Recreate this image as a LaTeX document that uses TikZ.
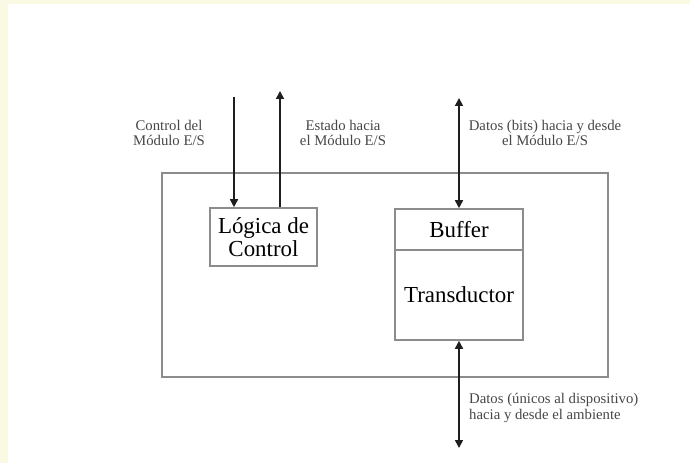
\documentclass[tikz,border=0pt]{standalone}
\usepackage{fontspec}
\setmainfont{Liberation Serif}
\usetikzlibrary{arrows.meta}
\definecolor{pagetint}{HTML}{FAFAE4}
\definecolor{boxgray}{HTML}{8C8C8C}
\definecolor{wire}{HTML}{1E1E1E}
\tikzset{
  frame/.style={draw=boxgray, line width=1.6bp},
  unit/.style={frame, rectangle, inner sep=0pt, align=center,
    font=\fontsize{23}{23.5}\selectfont},
  caption/.style={inner sep=0pt, align=center, text=black!72,
    font=\fontsize{14.8}{15.5}\selectfont},
  wireline/.style={draw=wire, line width=1.6bp},
  tip/.style={-{Triangle[length=8bp,width=8bp]}},
  bothtips/.style={{Triangle[length=8bp,width=8bp]}-{Triangle[length=8bp,width=8bp]}},
}
\begin{document}
\begin{tikzpicture}[x=1bp,y=-1bp]
  % page with its tinted top and left margins
  \fill[pagetint] (0,0) rectangle (690,463);
  \fill[white] (8,4) rectangle (690,463);
  \useasboundingbox (0,0) rectangle (690,463);

  % the I/O device enclosure
  \node[frame, rectangle, minimum width=446bp, minimum height=204bp,
        inner sep=0pt] (device) at (385,275) {};

  % control logic
  \node[unit, minimum width=107bp, minimum height=58bp] (logic) at (263.5,237)
    {Lógica de\\Control};

  % buffer on top of the transducer
  \node[unit, minimum width=128bp, minimum height=41bp] (buffer) at (459,229.5)
    {Buffer};
  \node[unit, minimum width=128bp, minimum height=90bp] (trans) at (459,295)
    {Transductor};

  % free ends of the signal lines
  \coordinate (ctlin) at (234,97);
  \coordinate (stout) at (280,91);
  \coordinate (dataio) at (459,98);
  \coordinate (envio) at (459,448);

  \draw[wireline, tip] (ctlin) -- (ctlin |- logic.north);
  \draw[wireline, tip] (stout |- logic.north) -- (stout);
  \draw[wireline, bothtips] (dataio) -- (buffer.north);
  \draw[wireline, bothtips] (trans.south) -- (envio);

  % signal captions
  \node[caption] (capctl) at (169,133) {Control del\\Módulo E/S};
  \node[caption] (capst) at (343,133) {Estado hacia\\el Módulo E/S};
  \node[caption] (capdata) at (545,133) {Datos (bits) hacia y desde\\el Módulo E/S};
  \node[caption, align=left, anchor=west] (capenv) at (469,408)
    {Datos (únicos al dispositivo)\\hacia y desde el ambiente};
\end{tikzpicture}
\end{document}
